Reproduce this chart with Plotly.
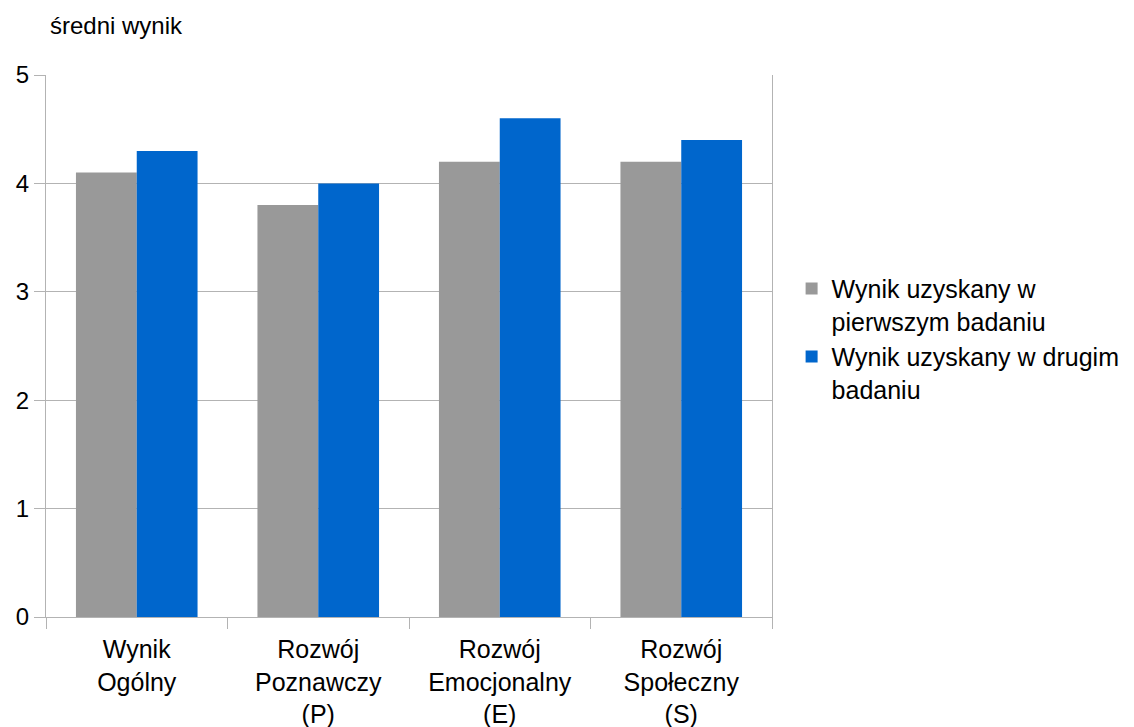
import plotly.graph_objects as go

# Category labels (wrapped onto several lines like the axis shows them)
categories = [
    "Wynik<br>Ogólny",
    "Rozwój<br>Poznawczy<br>(P)",
    "Rozwój<br>Emocjonalny<br>(E)",
    "Rozwój<br>Społeczny<br>(S)",
]
first_study = [4.1, 3.8, 4.2, 4.2]
second_study = [4.3, 4.0, 4.6, 4.4]
series_names = [
    "Wynik uzyskany w<br>pierwszym badaniu",
    "Wynik uzyskany w drugim<br>badaniu",
]
y_ticks = [0, 1, 2, 3, 4, 5]

GRID = "#b3b3b3"
FONT = "Liberation Sans, Arial, sans-serif"

fig = go.Figure()
fig.add_trace(go.Bar(x=categories, y=first_study, name=series_names[0],
                     marker=dict(color="#999999", line=dict(width=0))))
fig.add_trace(go.Bar(x=categories, y=second_study, name=series_names[1],
                     marker=dict(color="#0066cc", line=dict(width=0))))

fig.update_layout(
    width=1134, height=727,
    margin=dict(l=46, r=362, t=75, b=110, pad=0, autoexpand=False),
    paper_bgcolor="white", plot_bgcolor="white",
    font=dict(family=FONT, size=25, color="#000000"),
    barmode="group", bargap=0.33, bargroupgap=0,
    showlegend=True,
    legend=dict(x=1.027, y=0.648, xanchor="left", yanchor="top",
                valign="top", font=dict(size=25), tracegroupgap=0,
                bgcolor="rgba(0,0,0,0)"),
    xaxis=dict(type="category", tickson="boundaries", ticks="outside",
               ticklen=11, tickcolor=GRID, showgrid=False, showline=True,
               linecolor=GRID, linewidth=1, tickfont=dict(size=25),
               ticklabelstandoff=10, automargin=False),
    yaxis=dict(range=[0, 5], tickvals=y_ticks, ticks="outside", ticklen=11,
               tickcolor=GRID, showgrid=True, gridcolor=GRID, gridwidth=1,
               showline=True, linecolor=GRID, linewidth=1, mirror=True,
               zeroline=False, tickfont=dict(size=24), automargin=False),
    annotations=[dict(text="średni wynik", xref="paper", yref="paper",
                      x=0, y=1, xshift=2, yshift=34, xanchor="left",
                      yanchor="bottom", showarrow=False,
                      font=dict(size=24))],
)

fig.write_html("out.html")
